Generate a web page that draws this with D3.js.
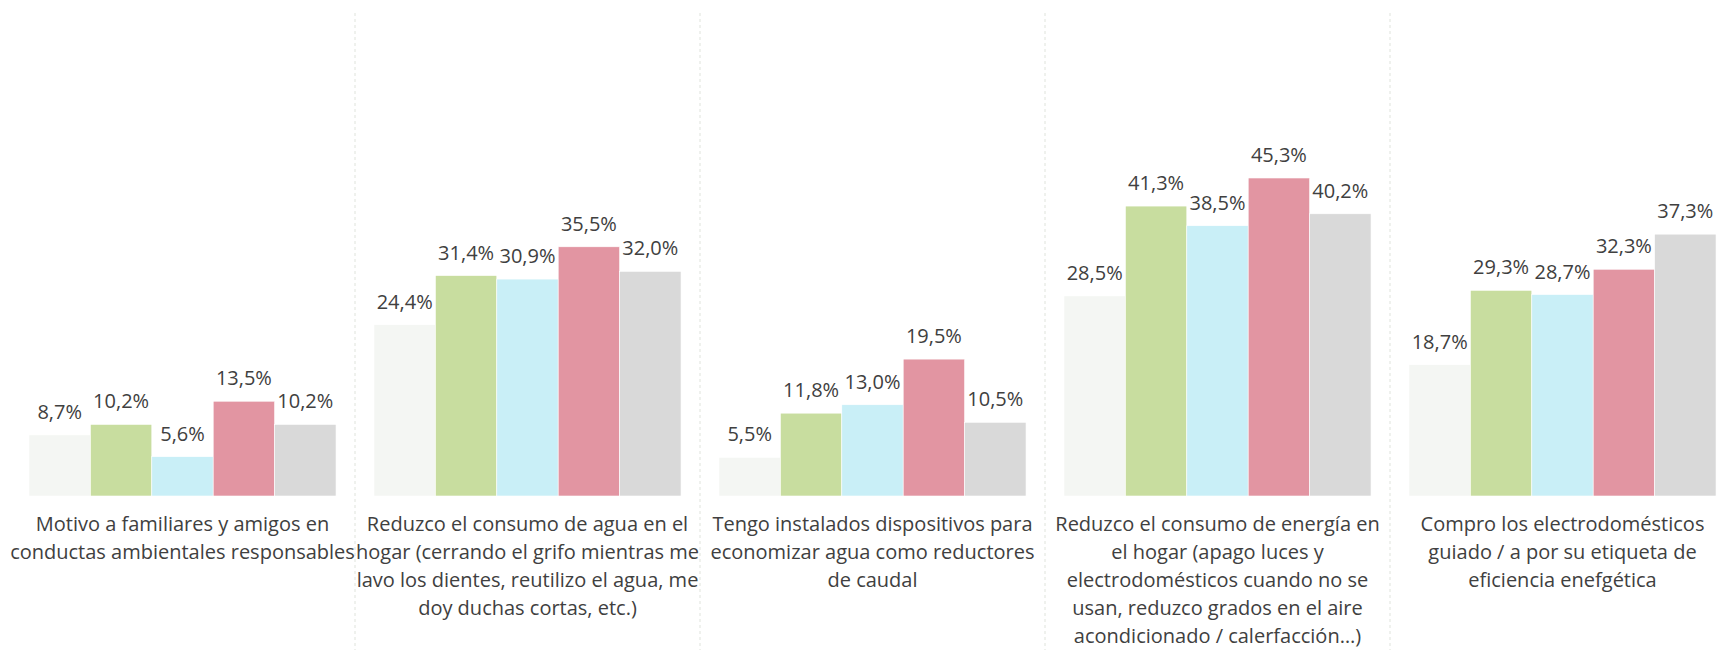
<!DOCTYPE html>
<html>
<head>
<meta charset="utf-8">
<script src="https://cdn.jsdelivr.net/npm/d3@7"></script>
<style>
  body { margin: 0; background: #fff; }
  svg { display: block; font-family: "Open Sans", "Noto Sans", sans-serif; }
</style>
</head>
<body>
<svg id="chart"></svg>
<script>
// categories (wrapped the way the original shows them)
const categories = ["c1", "c2", "c3", "c4", "c5"];
const categoryLines = [
  ["Motivo a familiares y amigos en", "conductas ambientales responsables"],
  ["Reduzco el consumo de agua en el", "hogar (cerrando el grifo mientras me", "lavo los dientes, reutilizo el agua, me", "doy duchas cortas, etc.)"],
  ["Tengo instalados dispositivos para", "economizar agua como reductores", "de caudal"],
  ["Reduzco el consumo de energía en", "el hogar (apago luces y", "electrodomésticos cuando no se", "usan, reduzco grados en el aire", "acondicionado / calerfacción…)"],
  ["Compro los electrodomésticos", "guiado / a por su etiqueta de", "eficiencia enefgética"]
];
const seriesNames = ["s1", "s2", "s3", "s4", "s5"];
const seriesColors = ["#f4f6f3", "#c8dd9f", "#c9eff7", "#e295a2", "#d9d9d9"];

// one array per series, values in %
const s1 = [8.7, 24.4, 5.5, 28.5, 18.7];
const s2 = [10.2, 31.4, 11.8, 41.3, 29.3];
const s3 = [5.6, 30.9, 13.0, 38.5, 28.7];
const s4 = [13.5, 35.5, 19.5, 45.3, 32.3];
const s5 = [10.2, 32.0, 10.5, 40.2, 37.3];
const series = [s1, s2, s3, s4, s5];

const W = 1719, H = 650;
const svg = d3.select("#chart").attr("width", W).attr("height", H);

const x = d3.scaleBand().domain(categories).range([10, 1735])
  .paddingInner(0.11).paddingOuter(0.055);
const xs = d3.scaleBand().domain(seriesNames).range([0, x.bandwidth()]);
const y = d3.scaleLinear().domain([0, 50]).range([496, 145]);

// dashed separators between groups
const seps = categories.slice(1).map(c => x(c) - x.step() * x.paddingInner() / 2);
svg.append("g").selectAll("line").data(seps).enter().append("line")
  .attr("x1", d => d).attr("x2", d => d)
  .attr("y1", 13).attr("y2", H)
  .attr("stroke", "#dfe3dc").attr("stroke-width", 1)
  .attr("stroke-dasharray", "3,3");

const rows = [];
categories.forEach((c, i) => {
  series.forEach((s, j) => rows.push({ cat: c, ser: seriesNames[j], v: s[i], color: seriesColors[j] }));
});

const fmt = v => d3.format(".1f")(v).replace(".", ",") + "%";

svg.append("g").selectAll("rect").data(rows).enter().append("rect")
  .attr("x", d => x(d.cat) + xs(d.ser))
  .attr("y", d => y(d.v))
  .attr("width", xs.bandwidth())
  .attr("height", d => y(0) - y(d.v))
  .attr("fill", d => d.color)
  .attr("stroke", "#fff").attr("stroke-width", 0.6);

svg.append("g").selectAll("text").data(rows).enter().append("text")
  .attr("x", d => x(d.cat) + xs(d.ser) + xs.bandwidth() / 2)
  .attr("y", d => y(d.v) - 16)
  .attr("text-anchor", "middle")
  .attr("font-size", 20)
  .attr("fill", "#404040")
  .text(d => fmt(d.v));

// category labels
const lab = svg.append("g").selectAll("text").data(categories).enter().append("text")
  .attr("text-anchor", "middle")
  .attr("font-size", 20)
  .attr("fill", "#404040");
lab.each(function (c, i) {
  const t = d3.select(this);
  categoryLines[i].forEach((line, k) => {
    t.append("tspan")
      .attr("x", x(c) + x.bandwidth() / 2)
      .attr("y", 531 + k * 28)
      .text(line);
  });
});
</script>
</body>
</html>
